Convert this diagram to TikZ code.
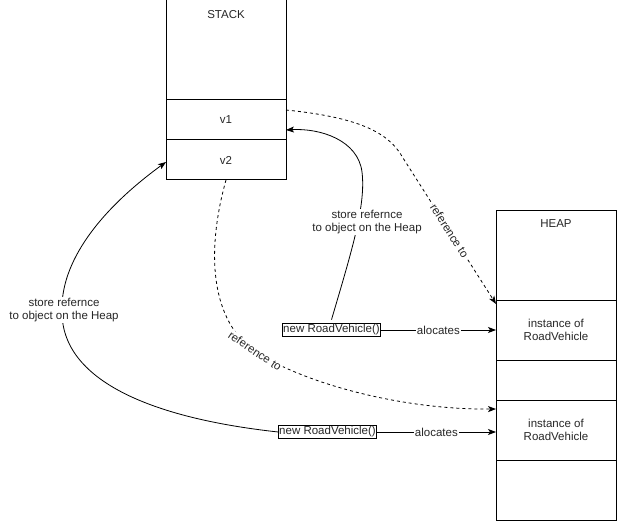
\documentclass[tikz,border=0pt]{standalone}
\usepackage{fontspec}
\setmainfont{Liberation Sans}
\usetikzlibrary{arrows.meta}
\begin{document}
\begin{tikzpicture}[x=1pt,y=-1pt,
  every node/.style={font=\fontsize{11.5}{13.5}\selectfont, text=black!85},
  cell/.style={draw, line width=1pt, minimum width=120pt, inner sep=0pt, outer sep=0pt},
  newbox/.style={draw, line width=1pt, inner sep=1pt, outer sep=0pt},
  conn/.style={line width=0.8pt, -{Stealth[length=8pt,width=6pt,inset=2pt]}},
  refconn/.style={conn, dashed, dash pattern=on 3pt off 3pt},
  lbl/.style={fill=white, inner sep=1pt, align=center}
]
\useasboundingbox (0,0) rectangle (617,521);
% STACK
\node[cell, minimum height=100pt] (stk) at (226,50) {};
\node[cell, minimum height=40pt] (v1) at (226,120) {v1};
\node[cell, minimum height=40pt] (v2) at (226,160) {v2};
\node (stklbl) at (226,15) {STACK};
% HEAP
\node[cell, minimum height=90pt] (hp) at (556,255) {};
\node[cell, minimum height=60pt, align=center] (inst1) at (556,330) {instance of\\RoadVehicle};
\node[cell, minimum height=40pt] (e1) at (556,380) {};
\node[cell, minimum height=60pt, align=center] (inst2) at (556,430) {instance of\\RoadVehicle};
\node[cell, minimum height=60pt] (e2) at (556,490) {};
\node (hplbl) at (556,224) {HEAP};
% new boxes
\node[newbox] (new1) at (331.5,330) {new RoadVehicle()};
\node[newbox] (new2) at (327.5,432) {new RoadVehicle()};
% allocations
\draw[conn] (new1.east) -- node[lbl]{alocates} (new1.east -| inst1.west);
\draw[conn] (new2.east) -- node[lbl]{alocates} (new2.east -| inst2.west);
% v1 reference
\draw[refconn] ([yshift=10pt]v1.east) .. controls (365,118) and (390,135) .. (403,158)
  -- node[lbl, sloped]{reference to} ([yshift=-4pt]inst1.north west);
% store reference 1
\draw[conn] ([yshift=4pt]new1.north) .. controls (352,250) and (366,205) .. (362,172)
  .. controls (358,140) and (320,128) .. ([yshift=-10pt]v1.east);
\node[lbl] (st1) at (367,222) {store refernce\\to object on the Heap};
% v2 reference
\draw[refconn] (v2.south) .. controls (205,255) and (212,322) .. (255,351)
  node[lbl, sloped, pos=1]{reference to}
  .. controls (300,382) and (400,410) .. ([yshift=-9pt]inst2.north west);
% store reference 2
\draw[conn] (new2.west) .. controls (150,418) and (62,380) .. (62,312)
  .. controls (60,262) and (100,210) .. ([yshift=-2pt]v2.west);
\node[lbl] (st2) at (64,310) {store refernce\\to object on the Heap};
\end{tikzpicture}
\end{document}
